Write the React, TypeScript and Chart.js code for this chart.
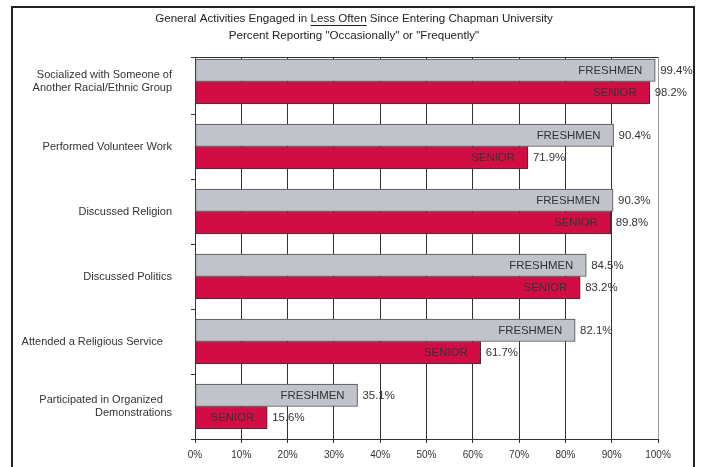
import React, { useEffect, useRef } from "react";
import { Chart, registerables } from "chart.js";

Chart.register(...registerables);

const CATEGORIES: string[][] = [
  ["Socialized with Someone of", "Another Racial/Ethnic Group"],
  ["Performed Volunteer Work"],
  ["Discussed Religion"],
  ["Discussed Politics"],
  ["Attended a Religious Service   "],
  ["Participated in Organized   ", "Demonstrations"],
];
const FRESHMEN = [99.4, 90.4, 90.3, 84.5, 82.1, 35.1];
const SENIOR = [98.2, 71.9, 89.8, 83.2, 61.7, 15.6];
const SERIES_NAMES = ["FRESHMEN", "SENIOR"];
const X_TICKS = [0, 10, 20, 30, 40, 50, 60, 70, 80, 90, 100];
const TITLE_PRE = "General Activities Engaged in ";
const TITLE_UNDER = "Less Often";
const TITLE_POST = " Since Entering Chapman University";
const SUBTITLE = 'Percent Reporting "Occasionally" or "Frequently"';

const FONT = "'Liberation Sans', Arial, Helvetica, sans-serif";
const Y_MIN = -0.377;
const Y_MAX = 5.5;

const framePlugin = {
  id: "frame",
  afterDraw(chart: any) {
    const ctx = chart.ctx;
    ctx.save();
    ctx.strokeStyle = "#222";
    ctx.lineWidth = 2;
    ctx.strokeRect(12, 7, 682, 520);
    ctx.fillStyle = "#222";
    ctx.font = `11.6px ${FONT}`;
    ctx.textBaseline = "middle";
    const cx = 354;
    const full = TITLE_PRE + TITLE_UNDER + TITLE_POST;
    const w = ctx.measureText(full).width;
    const x0 = cx - w / 2;
    ctx.textAlign = "left";
    ctx.fillText(full, x0, 19);
    const wPre = ctx.measureText(TITLE_PRE).width;
    const wU = ctx.measureText(TITLE_UNDER).width;
    ctx.strokeStyle = "#222";
    ctx.lineWidth = 1;
    ctx.beginPath();
    ctx.moveTo(x0 + wPre, 25.5);
    ctx.lineTo(x0 + wPre + wU, 25.5);
    ctx.stroke();
    ctx.textAlign = "center";
    ctx.fillText(SUBTITLE, cx, 36);
    ctx.restore();
  },
};

const barLabelPlugin = {
  id: "barLabels",
  afterDatasetsDraw(chart: any) {
    const ctx = chart.ctx;
    ctx.save();
    ctx.font = `11.4px ${FONT}`;
    ctx.textBaseline = "middle";
    ctx.fillStyle = "#333";
    chart.data.datasets.forEach((ds: any, di: number) => {
      const meta = chart.getDatasetMeta(di);
      meta.data.forEach((el: any, i: number) => {
        const v = ds.data[i].x;
        ctx.textAlign = "right";
        ctx.fillText(SERIES_NAMES[di], el.x - 13, el.y + 0.5);
        ctx.textAlign = "left";
        ctx.fillText(v.toFixed(1) + "%", el.x + 5, el.y + 0.5);
      });
    });
    ctx.restore();
  },
};

export default function App() {
  const ref = useRef<HTMLCanvasElement>(null);
  useEffect(() => {
    if (!ref.current) return;
    const chart = new Chart(ref.current, {
      type: "bar",
      data: {
        datasets: [
          {
            label: SERIES_NAMES[0],
            data: FRESHMEN.map((v, i) => ({ x: v, y: i })),
            backgroundColor: "#c1c3ca",
            borderColor: "#4a4a4a",
            borderWidth: 1,
            borderSkipped: false,
            barThickness: 22.5,
          },
          {
            label: SERIES_NAMES[1],
            data: SENIOR.map((v, i) => ({ x: v, y: i })),
            backgroundColor: "#d20d45",
            borderColor: "#4a2a30",
            borderWidth: 1,
            borderSkipped: false,
            barThickness: 22.5,
          },
        ],
      },
      options: {
        indexAxis: "y",
        responsive: false,
        animation: false,
        layout: { padding: { top: 57, right: 43, left: 0, bottom: 0 } },
        plugins: {
          legend: { display: false },
          tooltip: { enabled: false },
          title: { display: false },
        },
        scales: {
          x: {
            type: "linear",
            min: 0,
            max: 100,
            afterBuildTicks: (scale: any) => {
              scale.ticks = X_TICKS.map((v) => ({ value: v }));
            },
            afterFit: (scale: any) => {
              scale.height = 28;
            },
            ticks: {
              callback: (v: any) => v + "%",
              font: { family: FONT, size: 10 },
              color: "#333",
              padding: 6,
              maxRotation: 0,
              autoSkip: false,
            },
            grid: {
              color: (c: any) => (c.tick && c.tick.value === 100 ? "#9a9a9a" : "#333"),
              tickColor: "#333",
              tickLength: 4,
              lineWidth: 1,
            },
            border: { display: true, color: "#333", width: 1 },
          },
          y: {
            type: "linear",
            reverse: true,
            offset: false,
            min: Y_MIN,
            max: Y_MAX,
            afterBuildTicks: (scale: any) => {
              const t: any[] = [{ value: Y_MIN }];
              for (let i = 0; i < CATEGORIES.length; i++) {
                t.push({ value: i });
                t.push({ value: i + 0.5 });
              }
              scale.ticks = t;
            },
            afterFit: (scale: any) => {
              scale.width = 195;
            },
            ticks: {
              autoSkip: false,
              callback: (v: any) =>
                Number.isInteger(v) && CATEGORIES[v] ? CATEGORIES[v] : "",
              font: { family: FONT, size: 11, lineHeight: 1.2 },
              color: "#333",
              padding: 19,
            },
            grid: {
              offset: false,
              color: (c: any) =>
                c.tick && c.tick.value === Y_MIN ? "#333" : "rgba(0,0,0,0)",
              tickColor: (c: any) =>
                c.tick && Number.isInteger(c.tick.value) ? "rgba(0,0,0,0)" : "#333",
              tickLength: 4,
              lineWidth: 1,
            },
            border: { display: true, color: "#333", width: 1 },
          },
        },
      },
      plugins: [framePlugin, barLabelPlugin],
    } as any);
    return () => chart.destroy();
  }, []);
  return (
    <div style={{ position: "fixed", left: 0, top: 0, width: 701, height: 467, background: "#fff" }}>
      <canvas ref={ref} width={701} height={467} />
    </div>
  );
}
